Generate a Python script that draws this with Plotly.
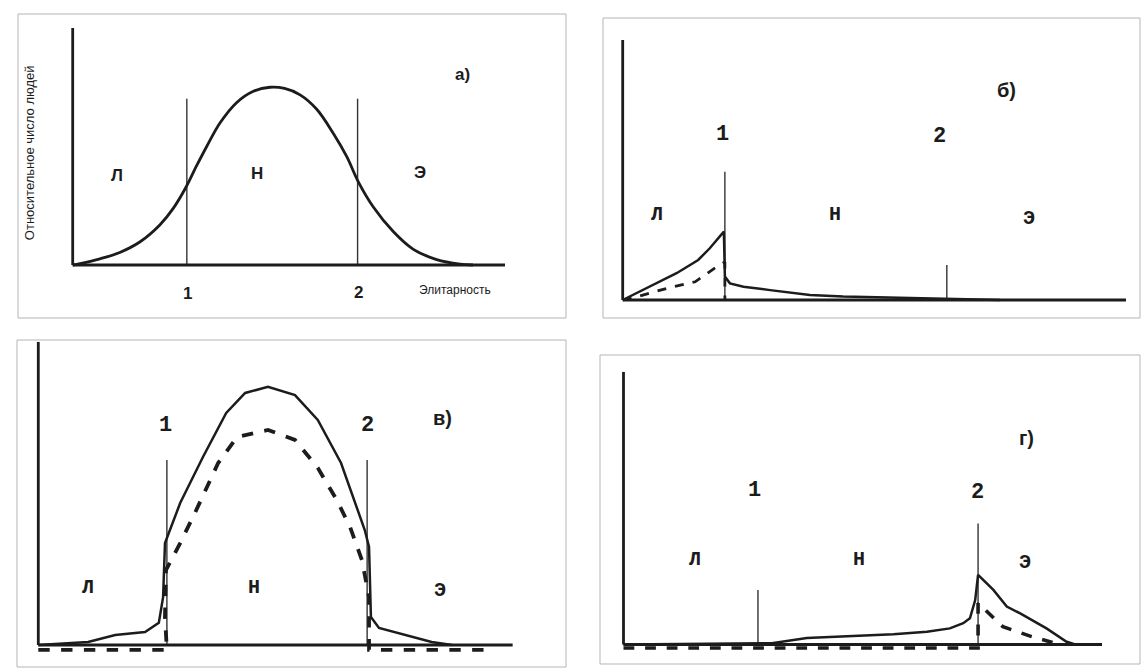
import plotly.graph_objects as go

W, H = 1141, 668

# --- panel а) : bell curve -------------------------------------------------
A_X = [0, 1.7, 6.3, 10.9, 15.6, 20.2, 23.3, 26.2, 28.7, 31.0, 34.1, 37.9, 41.8, 45.6, 49.0,
       52.6, 56.4, 60.3, 63.4, 66.1, 69.5, 74.2, 78.8, 84.2, 89.6, 92.6]
A_Y = [0, 0.6, 2.6, 5.3, 9.8, 17.0, 24.0, 32.8, 42.0, 50.0, 60.0, 68.5, 73.3, 75.0, 74.5,
       71.8, 65.8, 55.5, 45.7, 35.0, 24.6, 14.0, 6.6, 2.3, 0.4, 0]
A_BOUNDS = [26.4, 65.9]
A_BOUND_TOP = [70.1, 70.1]

# --- panel б) -------------------------------------------------------------
B_SOLID_X = [0, 5.4, 10.7, 15.0, 17.3, 20.1, 20.3, 21.3, 24.0, 29.3, 37.2, 43.8, 53.7, 63.6, 75.0]
B_SOLID_Y = [0, 5.1, 10.3, 15.4, 19.9, 26.3, 9.0, 6.4, 5.1, 3.8, 1.9, 1.3, 0.9, 0.3, 0]
B_DASH_X = [0, 2.0, 4.0, 9.0, 14.4, 18.7, 20.3, 20.3]
B_DASH_Y = [0, 0.8, 1.9, 4.6, 7.0, 12.8, 14.6, 0]
B_BOUNDS = [20.3, 64.4]
B_BOUND_TOP = [49.3, 13.5]

# --- panel в) -------------------------------------------------------------
V_SOLID_X = [0, 10.5, 16.2, 22.5, 25.4, 26.3, 26.7, 29.9, 34.7, 39.6, 43.6, 48.4, 54.1,
             58.9, 63.8, 68.8, 69.7, 70.1, 71.8, 77.5, 82.9, 87.2]
V_SOLID_Y = [0, 1.0, 3.3, 4.3, 7.3, 15.8, 33.6, 46.8, 62.0, 76.5, 83.1, 85.1, 82.4,
             74.2, 60.0, 37.9, 32.3, 9.2, 5.6, 3.3, 1.0, 0]
V_DASH_X = [0, 27.1, 26.7, 26.9, 29.9, 33.0, 37.9, 41.9, 48.4, 54.1, 58.9, 62.9, 65.7,
            68.2, 69.7, 69.7, 95.0]
V_DASH_Y = [-1.6, -1.6, 9.2, 24.7, 33.6, 43.5, 60.0, 68.6, 70.9, 67.6, 58.4, 47.8, 38.9,
            28.0, 15.8, -1.6, -1.6]
V_BOUNDS = [27.1, 69.3]
V_BOUND_TOP = [61.0, 61.0]

# --- panel г) -------------------------------------------------------------
G_SOLID_X = [0, 31.0, 38.3, 49.4, 56.4, 63.4, 68.2, 71.0, 72.4, 73.5, 74.1, 77.3, 80.1,
             82.9, 88.4, 92.6, 94.4]
G_SOLID_Y = [0, 0.5, 2.4, 3.1, 3.8, 4.7, 5.9, 7.8, 9.6, 16.3, 25.5, 20.0, 13.9,
             11.4, 5.9, 1.0, 0]
G_DASH_X = [0, 74.1, 74.1, 79.3, 85.3, 91.2]
G_DASH_Y = [-1.3, -1.3, 15.2, 6.5, 2.9, 0]
G_BOUNDS = [28.1, 74.1]
G_BOUND_TOP = [20.0, 44.4]

ZONES = ["Л", "Н", "Э"]
BOUND_NAMES = ["1", "2"]

INK = "#1c1c1c"
MONO = "Liberation Mono, Courier New, monospace"
SANS = "Liberation Sans, Arial, sans-serif"


def place(ox, oy, xe, yt, xlo=-2, ylo=-5):
    # pixel box of the axes -> paper domains; ranges start a bit below 0
    ux = (xe - ox) / 100
    uy = (oy - yt) / 100
    left = ox + xlo * ux
    bottom = oy - ylo * uy
    return [left / W, xe / W], [1 - bottom / H, 1 - yt / H], xlo, ylo


panels = {
    # panel а) keeps room for its axis captions outside the plot frame
    "": place(72.7, 265, 505, 28, xlo=-13, ylo=-16),
    "2": place(622.7, 300, 1126, 40),
    "3": place(38.3, 645, 512.8, 341.7),
    "4": place(623.5, 644.5, 1102, 371.7),
}

fig = go.Figure()


def add_bounds(ax, xs, tops):
    bx, by = [], []
    for x, t in zip(xs, tops):
        bx += [x, x, None]
        by += [0, t, None]
    fig.add_trace(go.Scatter(x=bx, y=by, mode="lines", xaxis="x" + ax, yaxis="y" + ax,
                             line=dict(color="#333", width=1.4), showlegend=False,
                             hoverinfo="skip"))


def add_curve(ax, xs, ys, dash="solid", width=2.6, shape="linear"):
    fig.add_trace(go.Scatter(x=xs, y=ys, mode="lines", xaxis="x" + ax, yaxis="y" + ax,
                             line=dict(color=INK, width=width, dash=dash, shape=shape),
                             showlegend=False))


# а)
add_bounds("", A_BOUNDS, A_BOUND_TOP)
add_curve("", A_X, A_Y, width=2.8, shape="spline")
# б)
add_bounds("2", B_BOUNDS, B_BOUND_TOP)
add_curve("2", B_SOLID_X, B_SOLID_Y, width=2.5)
add_curve("2", B_DASH_X, B_DASH_Y, dash="dash", width=2.8)
# в)
add_bounds("3", V_BOUNDS, V_BOUND_TOP)
add_curve("3", V_SOLID_X, V_SOLID_Y, width=2.5)
add_curve("3", V_DASH_X, V_DASH_Y, dash="dash", width=3.8)
# г)
add_bounds("4", G_BOUNDS, G_BOUND_TOP)
add_curve("4", G_SOLID_X, G_SOLID_Y, width=2.5)
add_curve("4", G_DASH_X, G_DASH_Y, dash="dash", width=3.6)

layout = dict(width=W, height=H, margin=dict(l=0, r=0, t=0, b=0),
              paper_bgcolor="white", plot_bgcolor="rgba(0,0,0,0)")
shapes = []
for ax, (xd, yd, xlo, ylo) in panels.items():
    common = dict(showgrid=False, zeroline=False, showticklabels=False, ticks="",
                  showline=False, fixedrange=True)
    layout["xaxis" + ax] = dict(domain=xd, range=[xlo, 100], anchor="y" + ax, **common)
    layout["yaxis" + ax] = dict(domain=yd, range=[ylo, 100], anchor="x" + ax, **common)
    xr, yr = "x" + ax, "y" + ax
    # the two axes drawn as heavy strokes meeting at the origin
    shapes.append(dict(type="line", xref=xr, yref=yr, x0=0, y0=0, x1=0, y1=100,
                       line=dict(color=INK, width=2.8)))
    shapes.append(dict(type="line", xref=xr, yref=yr, x0=0, y0=0, x1=100, y1=0,
                       line=dict(color=INK, width=2.8)))

# faint frames of the scanned panels
for x0, y0, x1, y1 in [(18, 14, 566, 318), (603, 18, 1140, 318),
                       (17, 340, 566, 667), (600, 355, 1140, 664)]:
    shapes.append(dict(type="rect", xref="paper", yref="paper",
                       x0=x0 / W, x1=x1 / W, y0=1 - y1 / H, y1=1 - y0 / H,
                       line=dict(color="#b5b5b5", width=1)))
layout["shapes"] = shapes

ann = []


def label(ax, x, y, text, size, family=MONO, **kw):
    ann.append(dict(xref="x" + ax, yref="y" + ax, x=x, y=y, text=text, showarrow=False,
                    font=dict(size=size, family=family, color=INK), **kw))


# а)
for (x, y), t in zip([(10.2, 37.7), (42.6, 38.8), (80.3, 39.2)], ZONES):
    label("", x, y, "<b>%s</b>" % t, 17, SANS)
for (x, y), t in zip([(26.6, -12.1), (66.2, -11.5)], BOUND_NAMES):
    label("", x, y, "<b>%s</b>" % t, 17, SANS)
label("", 90.1, 80.5, "<b>а)</b>", 17, SANS)
label("", 88.4, -10.5, "Элитарность", 12, SANS)
label("", -10.0, 47.4, "Относительное число людей", 13, SANS, textangle=-90)

# б)
for (x, y), t in zip([(6.8, 32.7), (42.2, 32.7), (80.8, 31.4)], ZONES):
    label("2", x, y, "<b>%s</b>" % t, 20)
for (x, y), t in zip([(19.8, 63.5), (63.0, 62.8)], BOUND_NAMES):
    label("2", x, y, "<b>%s</b>" % t, 22)
label("2", 76.3, 80.8, "<b>б)</b>", 20, SANS)

# в)
for (x, y), t in zip([(10.5, 19.1), (45.5, 19.1), (84.7, 18.1)], ZONES):
    label("3", x, y, "<b>%s</b>" % t, 20)
for (x, y), t in zip([(26.9, 72.5), (69.3, 72.5)], BOUND_NAMES):
    label("3", x, y, "<b>%s</b>" % t, 22)
label("3", 85.1, 74.8, "<b>в)</b>", 20, SANS)

# г)
for (x, y), t in zip([(14.9, 31.0), (49.2, 31.0), (83.9, 29.9)], ZONES):
    label("4", x, y, "<b>%s</b>" % t, 20)
for (x, y), t in zip([(27.3, 56.6), (73.9, 55.9)], BOUND_NAMES):
    label("4", x, y, "<b>%s</b>" % t, 22)
label("4", 84.3, 75.7, "<b>г)</b>", 20, SANS)

layout["annotations"] = ann
fig.update_layout(**layout)

# the page body has a default 8px margin; drop it so the figure sits at 0,0
fig.write_html("out.html", config={"displayModeBar": False},
               post_script="document.body.style.margin='0';")
